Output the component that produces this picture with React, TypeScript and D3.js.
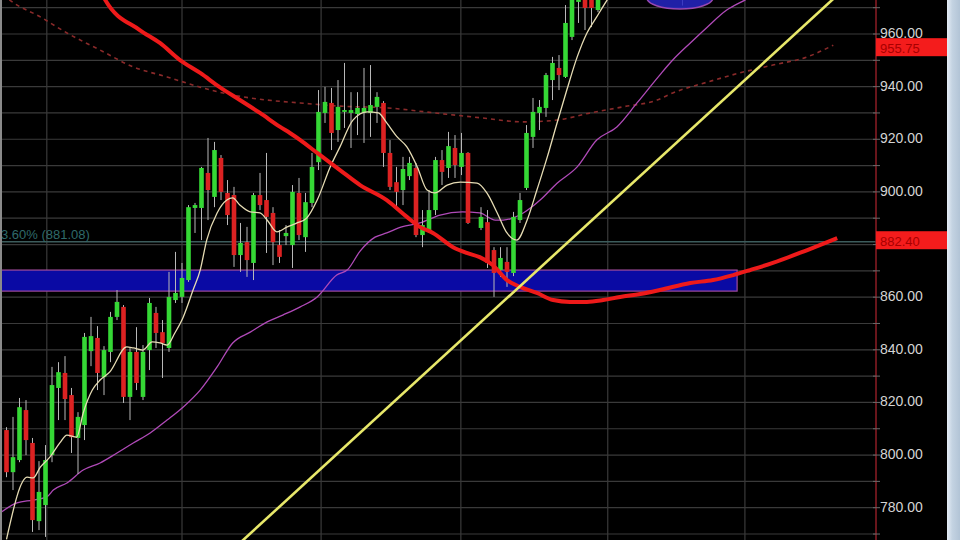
import React, { useEffect } from "react";
import * as d3 from "d3";

// ---- Candles (index, open, high, low, close) ----
const candleIdx = [0,1,2,3,4,5,6,7,8,9,10,11,12,13,14,15,16,17,18,19,20,21,22,23,24,25,26,27,28,29,30,31,32,33,34,35,36,37,38,39,40,41,42,43,44,45,46,47,48,49,50,51,52,53,54,55,56,57,58,59,60,61,62,63,64,65,66,67,68,69,70,71,73,74,75,76,77,78,79,80,81,82,83,84,85,86,87,88,89,90,91,104];
const opens = [809.5,793.5,798.1,817.1,804.6,774.9,781.0,800.0,825.5,831.2,822.8,806.5,811.4,839.5,844.5,829.6,839.2,852.5,856.3,822.1,839.2,822.1,839.9,854.0,846.7,840.7,858.9,860.1,866.5,893.9,893.9,907.2,898.1,912.9,899.6,898.8,876.0,880.9,873.0,898.8,896.9,892.0,879.8,883.2,879.8,899.6,882.8,895.8,911.3,930.0,933.8,923.5,930.4,930.0,929.6,930.0,930.0,932.3,933.8,914.8,903.7,900.7,906.0,909.1,883.6,885.5,893.1,912.1,909.1,916.7,909.5,914.8,886.3,888.5,877.9,870.3,873.4,869.2,889.3,901.5,920.9,930.0,931.9,942.5,947.1,943.7,958.9,972.2,976.7,974.8,969.1,975];
const highs = [810.6,814.5,821.7,820.9,806.5,797.7,803.8,833.5,835.3,837.6,825.5,816.3,846.4,852.5,849.0,841.4,854.4,862.7,857.0,840.7,848.6,841.8,859.7,856.3,851.3,869.6,877.2,873.0,895.0,895.8,909.5,920.5,919.0,914.0,904.5,901.9,888.2,886.7,899.6,907.2,914.8,894.2,885.5,887.4,902.6,905.3,899.6,914.8,938.7,939.9,939.5,942.5,949.0,937.9,937.9,947.1,948.2,937.9,934.5,919.7,909.5,913.3,913.3,911.0,893.1,900.7,913.3,915.9,922.8,921.6,922.4,915.1,894.2,893.1,879.0,879.0,879.0,892.4,899.6,925.4,935.7,934.9,945.2,951.3,952.0,971.0,976.7,980.5,978.6,976.7,978.6,985];
const lows = [791.6,786.7,797.3,800.0,770.8,771.5,768.9,797.3,813.3,813.3,800.8,792.8,805.7,833.8,824.7,822.8,835.3,851.3,819.8,813.3,824.7,820.9,832.3,840.7,829.3,839.2,857.8,857.8,865.8,884.4,881.7,889.3,894.2,896.9,887.4,871.5,869.6,867.7,866.5,893.1,876.8,872.2,873.0,879.8,871.1,881.7,877.2,894.2,908.3,926.2,915.9,919.0,924.3,916.7,921.6,918.6,920.9,926.2,909.5,900.7,894.2,895.0,904.5,882.8,879.0,884.4,891.2,902.6,905.3,905.3,906.4,887.8,885.5,871.1,860.1,867.7,863.9,868.0,888.2,900.7,916.7,923.5,928.5,934.9,938.7,943.3,957.7,964.2,961.5,962.6,968.3,970.8];
const closes = [793.5,799.2,818.2,805.7,775.3,786.0,798.1,826.6,831.5,821.3,806.8,814.5,844.9,845.2,831.2,839.9,852.5,858.2,822.1,839.2,827.4,839.2,857.8,846.4,842.6,860.1,861.6,867.3,894.2,895.0,909.1,900.7,915.9,900.0,891.2,876.0,880.6,874.1,898.8,895.0,890.5,880.9,875.3,884.4,900.0,883.6,896.1,909.5,930.4,934.2,922.4,932.3,931.1,931.1,931.9,931.9,933.0,936.1,914.8,901.9,900.0,908.7,911.0,883.6,887.4,893.1,912.1,907.6,917.4,910.2,914.8,888.2,890.5,873.0,869.2,874.9,869.6,890.5,896.9,922.4,930.4,932.3,944.4,949.0,944.4,964.2,974.8,978.6,969.9,969.9,976.7,980];

// ---- Short moving average (cream) : [index, value] ----
const shortMA: [number, number][] = [[0,768],[3.2,791.6],[4.1,791.3],[5.2,795.4],[6.7,799.3],[8.2,804.6],[9.3,807.6],[10.8,806.8],[11.8,816.0],[13.2,824.7],[14.4,828.5],[15.9,831.6],[18.5,841.1],[19.5,840.7],[21,839.9],[22.4,843.0],[23.6,842.6],[24.7,841.8],[25.9,846.4],[27.2,852.5],[28.7,862.7],[29.8,870.3],[30.8,881.7],[32.4,892.0],[33.9,896.9],[34.8,897.7],[35.9,895.0],[37.5,892.4],[39,892.0],[40.1,889.3],[41.6,884.8],[43.2,886.7],[44.7,888.2],[46.2,890.1],[47.8,896.9],[49.8,909.5],[51.3,917.1],[53.3,927.3],[55.5,930.4],[57.2,930.0],[58.5,926.2],[60.1,920.9],[61.6,917.1],[63.2,909.5],[64.7,900.7],[65.9,899.6],[67.8,902.6],[69.8,903.7],[72.4,903.3],[73.9,899.6],[75.5,892.0],[77,884.4],[78.5,881.7],[80.1,889.3],[81.6,900.7],[83.2,913.3],[84.7,926.2],[86.2,938.7],[87.8,951.3],[89.3,960.4],[90.8,966.5],[92.4,972.9],[94,978.6]];

// ---- Medium moving average (purple) ----
const midMA: [number, number][] = [[-1,778.0],[1.6,781.8],[4.1,782.9],[6.2,784.1],[7.2,786.7],[9.3,789.4],[11.8,794.3],[14.4,797.0],[17,800.8],[19.5,804.6],[22.1,808.4],[24.7,813.3],[27.2,818.3],[29.8,824.7],[32.4,833.5],[34.8,842.6],[37.5,846.7],[40.1,850.6],[42.5,853.2],[45.2,856.3],[47.8,860.1],[50.8,868.4],[52.5,870.5],[54.4,877.5],[56.7,882.8],[58.5,884.4],[60.8,886.7],[63.6,888.2],[66.7,891.2],[70.1,892.4],[72.8,892.0],[75.2,889.3],[76.4,889.3],[79.5,892.0],[82.1,896.9],[84.7,903.3],[87.8,909.5],[90.8,919.7],[93.9,924.7],[97,933.8],[100.5,944.4],[102.5,950.1],[105.2,956.6],[107.8,962.6],[110.8,969.1],[113.6,972.9],[116,976]];

// ---- Long moving average (thick red) ----
const longMA: [number, number][] = [[14.4,976.7],[15.2,972.9],[20.5,961.5],[23.6,956.6],[26.7,950.1],[29.8,945.2],[32.8,939.8],[35.9,934.9],[39,930.0],[42.1,924.7],[43.6,922.4],[45.2,919.7],[47.8,914.8],[51.3,908.3],[54.4,902.6],[58.5,896.9],[61.6,890.5],[63.6,886.7],[65.6,884.4],[68.7,879.0],[70.8,876.8],[72.8,875.2],[74.8,872.2],[77,866.5],[79,863.9],[81.6,861.6],[84.1,858.9],[86.7,858.2],[89.3,858.2],[91.8,858.9],[94.4,860.1],[97.5,861.2],[100.5,862.7],[105.2,865.4],[108.7,866.5],[111.8,868.4],[114.4,870.3],[117.9,873.0],[123.2,877.9],[127.8,882.4]];

// ---- Dashed moving average (dark red) ----
const dashMA: [number, number][] = [[-0.5,975],[0.5,972.9],[5.2,966.5],[9.3,960.4],[14.4,953.9],[19.5,947.5],[24.7,943.7],[29.8,939.8],[34.8,936.8],[40.1,934.9],[45.2,933.8],[51.3,932.6],[58.7,931.9],[65.9,930.0],[73.2,928.1],[79.5,926.6],[84.7,927.3],[89.8,930.0],[94.8,932.3],[100.1,934.9],[102.5,937.6],[107.8,941.7],[112.8,945.2],[117.9,948.2],[123.2,951.3],[127.2,955.75]];

// ---- Trendline anchors, zone, fib, grid ----
const trendAnchors: [number, number][] = [[36.4, 767.7], [127, 972.9]];
const zoneRange = { idxStart: -2, idxEnd: 112.4, low: 862.3, high: 870.3 };
const fibLevel = 881.08;
const fibLabel = "3.60% (881.08)";
const gridIdx = [6.2, 27, 48.4, 69.9, 92.5, 113.6];
const axisLabels = [960, 940, 920, 900, 860, 840, 820, 800, 780];
const priceMarkers = [955.75, 882.4];
const circled = { idx: 103.6, value: 973.7 };

const W = 960, H = 540;
const AXIS_X = 876;

export default function App() {
  useEffect(() => {
    document.body.style.margin = "0";
    document.body.style.background = "#000";
  }, []);

  const x = d3.scaleLinear().domain([0, 91]).range([6.5, 598]);
  const y = d3.scaleLinear().domain([780, 960]).range([507.7, 34]);

  const lineGen = (curve: any) =>
    d3.line<[number, number]>().x(d => x(d[0])).y(d => y(d[1])).curve(curve);

  const trend = d3.scaleLinear().domain([trendAnchors[0][0], trendAnchors[1][0]]).range([trendAnchors[0][1], trendAnchors[1][1]]);
  const tA = 25, tB = 140;

  const hGrid = d3.range(770, 981, 10);
  const bodyW = 4.6;
  const font = "Liberation Sans, Arial, sans-serif";

  return (
    <svg width={W} height={H} style={{ position: "absolute", left: 0, top: 0, display: "block", background: "#000" }}>
      <defs>
        <clipPath id="plot"><rect x={0} y={0} width={AXIS_X} height={H} /></clipPath>
        <linearGradient id="sb" x1="0" x2="1" y1="0" y2="0">
          <stop offset="0" stopColor="#e6eef6" />
          <stop offset="0.4" stopColor="#c4d3e2" />
          <stop offset="1" stopColor="#b2c4d6" />
        </linearGradient>
      </defs>
      <rect x={0} y={0} width={W} height={H} fill="#000" />
      <g clipPath="url(#plot)">
        {hGrid.map(v => (
          <line key={"h" + v} x1={0} x2={AXIS_X} y1={y(v)} y2={y(v)} stroke="#3a3a3a" strokeWidth={1.2} />
        ))}
        {gridIdx.map(i => (
          <line key={"v" + i} x1={x(i)} x2={x(i)} y1={0} y2={H} stroke="#3a3a3a" strokeWidth={1.2} />
        ))}
        <line x1={0} x2={AXIS_X} y1={y(fibLevel)} y2={y(fibLevel)} stroke="#3c5c5c" strokeWidth={1.5} />
        <text x={1} y={y(fibLevel) - 3} fill="#2f6a6a" fontSize={13} fontFamily={font}>{fibLabel}</text>
        <rect x={x(zoneRange.idxStart)} y={y(zoneRange.high)} width={x(zoneRange.idxEnd) - x(zoneRange.idxStart)} height={y(zoneRange.low) - y(zoneRange.high)} fill="#0a0aa4" stroke="#a04a9a" strokeWidth={1.2} />
        <path d={lineGen(d3.curveMonotoneX)(dashMA) || ""} fill="none" stroke="#8a2a2a" strokeWidth={1.6} strokeDasharray="4 4" />
        <path d={lineGen(d3.curveMonotoneX)(midMA) || ""} fill="none" stroke="#b04ab8" strokeWidth={1.3} />
        {candleIdx.map((ci, k) => {
          const o = opens[k], c = closes[k], hi = highs[k], lo = lows[k];
          const up = c >= o;
          const cx = x(ci);
          const top = y(Math.max(o, c));
          const bh = Math.max(1.5, y(Math.min(o, c)) - top);
          return (
            <g key={"c" + ci}>
              <line x1={cx} x2={cx} y1={y(hi)} y2={y(lo)} stroke="#b8b8b8" strokeWidth={1} />
              <rect x={cx - bodyW / 2} y={top} width={bodyW} height={bh} fill={up ? "#35d835" : "#dc2222"} />
            </g>
          );
        })}
        <path d={lineGen(d3.curveMonotoneX)(shortMA) || ""} fill="none" stroke="#e6dcb4" strokeWidth={1.3} />
        <path d={lineGen(d3.curveMonotoneX)(longMA) || ""} fill="none" stroke="#ee1a1a" strokeWidth={4} strokeLinejoin="round" />
        <line x1={x(tA)} y1={y(trend(tA))} x2={x(tB)} y2={y(trend(tB))} stroke="#e8e86a" strokeWidth={2.6} />
        <ellipse cx={x(circled.idx)} cy={y(circled.value)} rx={33} ry={11} fill="#2626c4" fillOpacity={0.85} stroke="#9a48b0" strokeWidth={1.5} />
      </g>
      {/* price axis */}
      <line x1={AXIS_X} x2={AXIS_X} y1={0} y2={H} stroke="#8c1c24" strokeWidth={1.5} />
      {hGrid.map(v => (
        <line key={"t" + v} x1={AXIS_X - 3} x2={AXIS_X + 4} y1={y(v)} y2={y(v)} stroke="#6a6a6a" strokeWidth={1} />
      ))}
      {axisLabels.map(v => (
        <text key={"l" + v} x={880} y={y(v) + 4} fill="#d4d4d4" fontSize={14} fontFamily={font}>{v.toFixed(2)}</text>
      ))}
      {priceMarkers.map(v => (
        <g key={"m" + v}>
          <rect x={AXIS_X} y={y(v) - 7} width={72} height={18} fill="#f41c1c" />
          <text x={880} y={y(v) + 8} fill="#a80000" fontSize={13} fontFamily={font}>{v.toFixed(2)}</text>
        </g>
      ))}
      <rect x={947} y={0} width={13} height={H} fill="url(#sb)" />
      <line x1={1} x2={1} y1={0} y2={H} stroke="#8a8a8a" strokeWidth={2} />
    </svg>
  );
}
